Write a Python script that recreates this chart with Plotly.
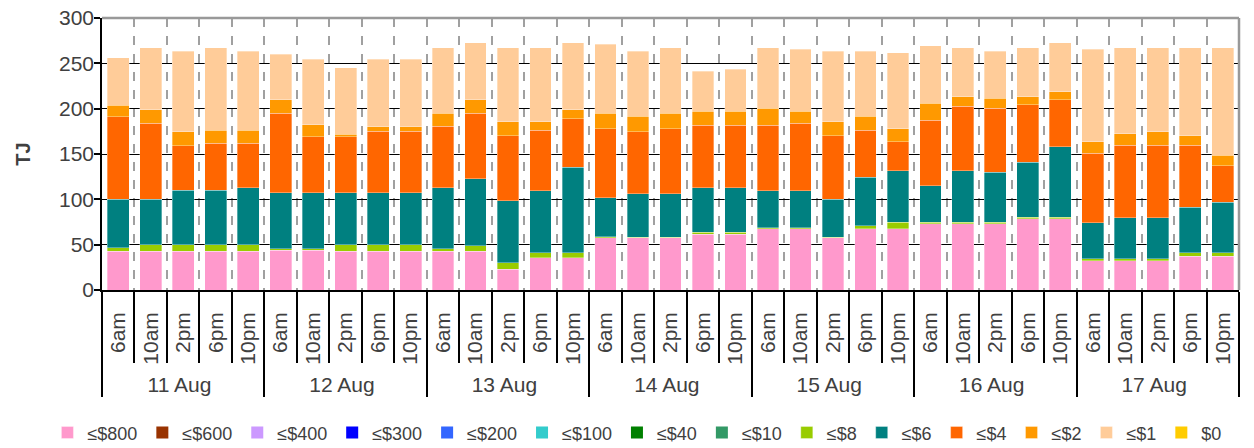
import plotly.graph_objects as go

dates = ["11 Aug", "12 Aug", "13 Aug", "14 Aug", "15 Aug", "16 Aug", "17 Aug"]
times = ["6am", "10am", "2pm", "6pm", "10pm"]

series_names = ["≤$800", "≤$600", "≤$400", "≤$300", "≤$200", "≤$100", "≤$40",
                "≤$10", "≤$8", "≤$6", "≤$4", "≤$2", "≤$1", "$0"]
series_colors = ["#FF99CC", "#993300", "#CC99FF", "#0000FF", "#3366FF", "#33CCCC", "#008000",
                 "#339966", "#99CC00", "#008080", "#FF6600", "#FF9900", "#FFCC99", "#FFCC00"]

le800 = [43, 43, 43, 43, 43, 44, 44, 43, 43, 43,
         43, 43, 22.8, 35.7, 35.7, 57.8, 57.8, 57.8, 61.5, 61.5,
         67.4, 67.4, 57.8, 67.4, 67.4, 73.3, 73.3, 73.3, 78.8, 78.8,
         32.4, 32.4, 32.4, 37.5, 37.5]
le600 = [0] * 35
le400 = [0] * 35
le300 = [0] * 35
le200 = [0] * 35
le100 = [0] * 35
le40 = [0] * 35
le10 = [0] * 35
le8 = [3.7, 7, 7, 7, 7, 1.6, 1.6, 7, 7, 7,
       2.3, 5.6, 7, 5.2, 5.2, 0.7, 0.5, 0.5, 2.2, 2.2,
       1.4, 1.4, 0.5, 3.6, 7.3, 1.4, 1.4, 1.4, 1.4, 1.4,
       1.8, 1.8, 1.8, 3.4, 3.4]
le6 = [53.3, 50, 60, 60, 63, 61.9, 61.9, 57.5, 57.5, 57.5,
       67.7, 74, 68.8, 68.8, 94.6, 43.5, 47.7, 47.7, 49.3, 49.3,
       40.9, 40.9, 41.7, 53.4, 57.1, 40.5, 57.1, 55.3, 60.8, 77.7,
       40.2, 45.7, 45.7, 50.4, 55.9]
le4 = [91, 84, 49, 51.6, 48.6, 87.2, 61.5, 61.5, 67.5, 67.5,
       67.4, 72.1, 71.8, 66.3, 53.5, 76, 68.8, 72, 68.8, 68.8,
       72.1, 74.3, 70.4, 51.6, 31.6, 71.8, 70.6, 70.6, 63.3, 51.9,
       76.2, 79.5, 79.5, 68.1, 40.5]
le2 = [13, 15, 15.5, 14.4, 14.4, 15.3, 13, 3, 5, 5,
       14.3, 15.3, 15.1, 9.5, 9.8, 16.7, 16.6, 16.7, 15.1, 15.1,
       18.8, 12.9, 15.1, 15.4, 14.4, 18.8, 10.7, 10.7, 8.8, 8.8,
       12.8, 13.2, 15.1, 11, 11.4]
le1 = [52, 68, 89, 91, 87.5, 50, 72.5, 73, 74.5, 74.5,
       72.3, 62.8, 81.5, 81.5, 74, 76.6, 72.1, 72.3, 44.6, 46.4,
       66.4, 68.9, 78, 72.1, 83.9, 63.6, 53.9, 52.2, 53.9, 54.2,
       102.4, 94.4, 92.5, 96.6, 118.3]
zero = [0] * 35

series_values = [le800, le600, le400, le300, le200, le100, le40,
                 le10, le8, le6, le4, le2, le1, zero]

x_outer = [d for d in dates for _ in times]
x_inner = [t for _ in dates for t in times]

FONT = "Liberation Sans, Arial, sans-serif"
TXT = "#404040"

fig = go.Figure()
for name, color, vals in zip(series_names, series_colors, series_values):
    has = any(v > 0 for v in vals)
    fig.add_trace(go.Bar(
        x=[x_outer, x_inner], y=vals, name=name,
        marker=dict(color=color,
                    line=dict(width=0.6 if has else 0, color="rgba(255,255,255,0.55)")),
        hovertemplate="%{x}: %{y}<extra>" + name + "</extra>",
    ))

fig.update_layout(
    width=1254, height=448,
    barmode="stack", bargap=0.33,
    plot_bgcolor="white", paper_bgcolor="white",
    margin=dict(l=102, r=15, t=18, b=158, autoexpand=False),
    font=dict(family=FONT, size=20, color=TXT),
    legend=dict(orientation="h", xref="paper", yref="paper",
                x=-0.048, xanchor="left", y=-0.525, yanchor="middle",
                font=dict(size=18, color=TXT), traceorder="normal",
                itemwidth=30, tracegroupgap=0),
    showlegend=True,
)

fig.update_yaxes(
    range=[0, 300], dtick=50, automargin=False,
    showline=True, linecolor="black", linewidth=1.5,
    ticks="outside", ticklen=6, tickcolor="black", tickwidth=1.5,
    showgrid=True, gridcolor="black", gridwidth=1,
    tickfont=dict(size=21, color=TXT), ticklabelstandoff=-4,
    title=dict(text="<b>TJ</b>", font=dict(size=20, color=TXT), standoff=23),
    zeroline=False,
)

fig.update_xaxes(
    type="multicategory", automargin=False,
    showline=True, linecolor="black", linewidth=1.5,
    ticks="outside", ticklen=71, tickcolor="black", tickwidth=1.5,
    tickson="boundaries",
    showgrid=True, gridcolor="#a0a0a0", gridwidth=1.5, griddash="dash",
    tickangle=-90, tickfont=dict(size=21, color=TXT),
    ticklabelstandoff=12,
    showdividers=True, dividercolor="black", dividerwidth=1.5,
)

# gray frame on top and right edges of the plot area
fig.add_shape(type="line", xref="paper", yref="paper", x0=0, x1=1, y0=1, y1=1,
              line=dict(color="#999999", width=2.5))
fig.add_shape(type="line", xref="paper", yref="paper", x0=1, x1=1, y0=0, y1=1,
              line=dict(color="#999999", width=2.5))

fig.write_html("out.html", config={"displayModeBar": False},
               post_script="document.body.style.margin='0';")
